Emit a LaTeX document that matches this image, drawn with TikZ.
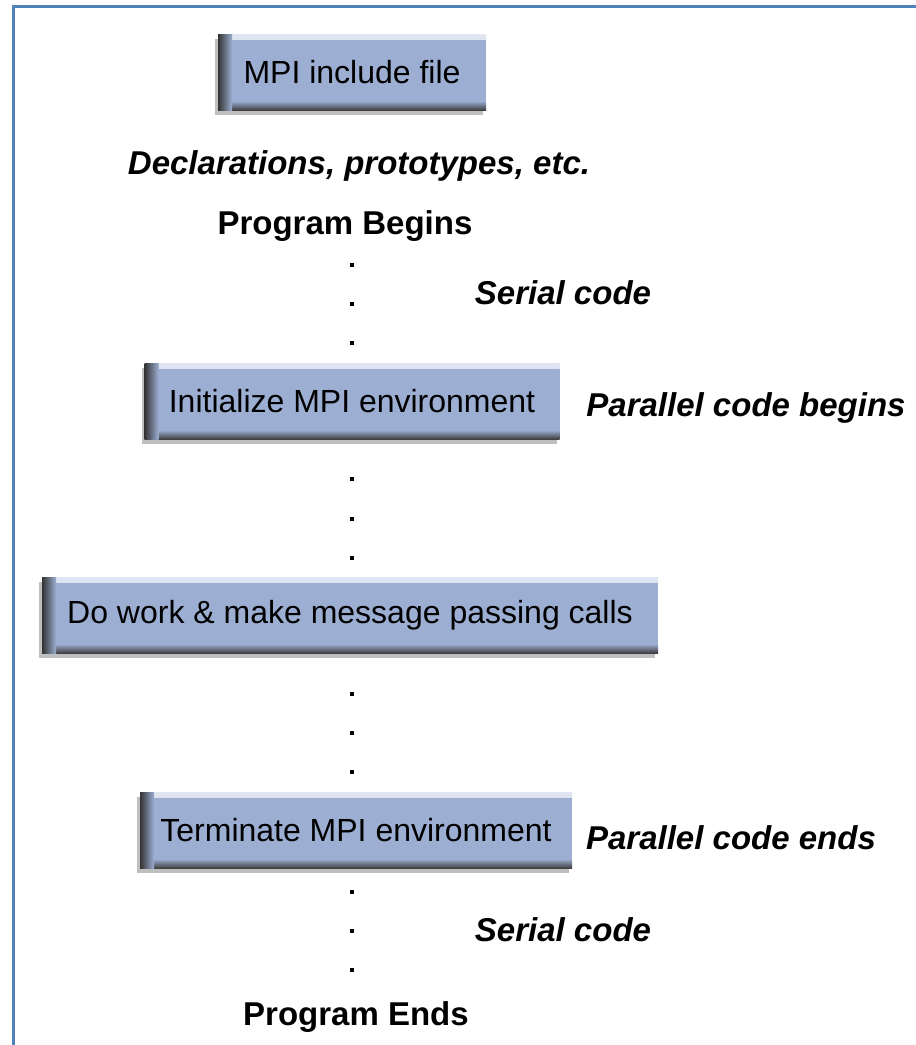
\documentclass[tikz,border=0pt]{standalone}
\usepackage{fontspec}
\setmainfont{Liberation Sans}
\usetikzlibrary{shadows}
\definecolor{mpi_blue}{RGB}{156,174,210}
\definecolor{frame_blue}{RGB}{79,129,189}

\tikzset{
  mpibox/.style={fill=mpi_blue, minimum height=76pt, inner sep=0pt,
    font=\fontsize{32}{38}\selectfont,
    drop shadow={shadow xshift=-3pt, shadow yshift=-5pt, opacity=0.25, fill=black},
    path picture={
      % light top edge
      \shade[top color=white!70!mpi_blue, bottom color=mpi_blue]
        (path picture bounding box.north west) rectangle ([yshift=-5pt]path picture bounding box.north east);
      % dark bottom edge
      \shade[bottom color=black!75, top color=mpi_blue]
        (path picture bounding box.south west) rectangle ([yshift=9pt]path picture bounding box.south east);
      % dark left bevel
      \shade[left color=black!80, right color=mpi_blue]
        (path picture bounding box.south west) rectangle ([xshift=14pt]path picture bounding box.north west);
    }},
  boldlabel/.style={font=\fontsize{33}{40}\selectfont\bfseries},
  codelabel/.style={font=\fontsize{33}{40}\selectfont\bfseries\itshape}
}

\begin{document}
\begin{tikzpicture}[x=1pt, y=-1pt]
    % Page size 916 x 1045
    \useasboundingbox (0,0) rectangle (916,1045);
    \fill[white] (0,0) rectangle (916,1045);

    % Frame on the left and top
    \draw[frame_blue, line width=3pt] (13,1045) -- (13,6) -- (916,6);

    % Program start
    \node[mpibox, minimum width=268pt] (include) at (352,72) {MPI include file};
    \node[codelabel] (decls) at (359,166) {Declarations, prototypes, etc.};
    \node[boldlabel] (progbegin) at (345,226) {Program Begins};
    \node[codelabel] (serial1) at (563,293) {Serial code};

    % Parallel part
    \node[mpibox, minimum width=415pt] (init) at (352,401) {Initialize MPI environment};
    \node[codelabel] (parbegin) at (746,408) {Parallel code begins};
    \node[mpibox, minimum width=616pt] (work) at (350,615) {Do work \& make message passing calls};
    \node[mpibox, minimum width=432pt] (term) at (356,830) {Terminate MPI environment};
    \node[codelabel] (parend) at (731,838) {Parallel code ends};

    % Program end
    \node[codelabel] (serial2) at (563,930) {Serial code};
    \node[boldlabel] (progend) at (356,1017) {Program Ends};

    % Vertical dots
    \foreach \y in {265,304,343, 479,519,558, 694,733,772, 892,931,970} {
      \fill (350,\y-2) rectangle (354,\y+2);
    }
\end{tikzpicture}
\end{document}
